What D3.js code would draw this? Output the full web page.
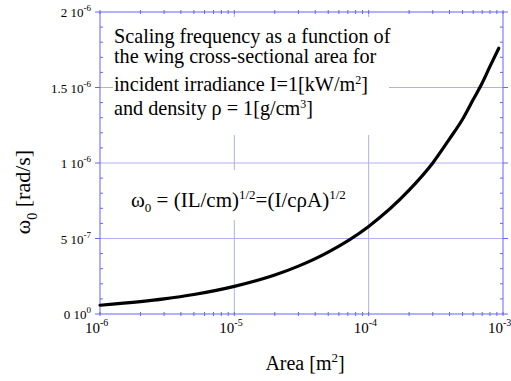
<!DOCTYPE html>
<html>
<head>
<meta charset="utf-8">
<script src="https://cdn.jsdelivr.net/npm/d3@7"></script>
<style>
  html, body { margin: 0; padding: 0; background: #fff; }
  svg { display: block; }
</style>
</head>
<body>
<div id="chart"></div>
<script>
// Valeurs
const areaValues  = [1e-6, 2e-6, 3e-6, 5e-6, 1e-5, 2e-5, 3e-5, 5e-5, 1e-4, 2e-4, 3e-4, 4e-4, 5e-4, 6e-4, 7e-4, 8e-4, 9.3e-4];
const omegaValues = [5.8e-8, 8.2e-8, 1.0e-7, 1.29e-7, 1.83e-7, 2.58e-7, 3.17e-7, 4.1e-7, 5.8e-7, 8.2e-7, 1.0e-6, 1.16e-6, 1.29e-6, 1.42e-6, 1.53e-6, 1.64e-6, 1.76e-6];

const xDecades = [1e-6, 1e-5, 1e-4, 1e-3];
const xTickExp = ["-6", "-5", "-4", "-3"];
const yMajor = [0, 5e-7, 1e-6, 1.5e-6, 2e-6];
const yTickMain = ["0 10", "5 10", "1 10", "1.5 10", "2 10"];
const yTickExp = ["0", "-7", "-6", "-6", "-6"];
const yGrid = [5e-7, 1e-6, 1.5e-6];
const xGrid = [1e-5, 1e-4];

const titleLines = [
  ["Scaling frequency as a function of"],
  ["the wing cross-sectional area for"],
  ["incident irradiance I=1[kW/m", "2", "]"],
  ["and density \u03c1 = 1[g/cm", "3", "]"]
];

const width = 511, height = 381;
const margin = { left: 100, right: 8, top: 12, bottom: 67 };
const axisColor = "#6464ff";
const gridColor = "#b0b0f0";
const serif = "'Liberation Serif', 'Times New Roman', serif";

const svg = d3.select("#chart").append("svg")
  .attr("width", width).attr("height", height)
  .attr("font-family", serif);

const x = d3.scaleLog().domain([1e-6, 1e-3]).range([margin.left, width - margin.right]);
const y = d3.scaleLinear().domain([0, 2e-6]).range([height - margin.bottom, margin.top]);
const x0 = x.range()[0], x1 = x.range()[1], y0 = y.range()[0], y1 = y.range()[1];

// Grille
const grid = svg.append("g").attr("stroke", gridColor).attr("stroke-width", 1);
yGrid.forEach(v => grid.append("line").attr("x1", x0).attr("x2", x1).attr("y1", y(v)).attr("y2", y(v)));
xGrid.forEach(v => grid.append("line").attr("x1", x(v)).attr("x2", x(v)).attr("y1", y1).attr("y2", y0));

// Cadres blancs derrière les textes
svg.append("rect").attr("x", 113).attr("y", 17).attr("width", 276).attr("height", 118).attr("fill", "#fff");
svg.append("rect").attr("x", 127).attr("y", 170).attr("width", 230).attr("height", 50).attr("fill", "#fff");

// Axes et graduations
const ax = svg.append("g").attr("stroke", axisColor).attr("stroke-width", 1).attr("fill", "none");
ax.append("rect").attr("x", x0).attr("y", y1).attr("width", x1 - x0).attr("height", y0 - y1);

const xMinor = [];
xDecades.slice(0, 3).forEach(d => { for (let k = 1; k <= 9; k++) xMinor.push(d * k); });
xMinor.push(1e-3);
xMinor.forEach(v => {
  ax.append("line").attr("x1", x(v)).attr("x2", x(v)).attr("y1", y0 - 2).attr("y2", y0 + 2);
  ax.append("line").attr("x1", x(v)).attr("x2", x(v)).attr("y1", y1 - 2).attr("y2", y1 + 2);
});

d3.range(0, 21).forEach(i => {
  const v = i * 1e-7;
  if (i % 5 === 0) {
    ax.append("line").attr("x1", x0 - 5).attr("x2", x0).attr("y1", y(v)).attr("y2", y(v));
    ax.append("line").attr("x1", x1).attr("x2", x1 + 5).attr("y1", y(v)).attr("y2", y(v));
  } else {
    ax.append("line").attr("x1", x0).attr("x2", x0 + 3).attr("y1", y(v)).attr("y2", y(v));
    ax.append("line").attr("x1", x1 - 3).attr("x2", x1).attr("y1", y(v)).attr("y2", y(v));
  }
});

// Etiquettes de l'axe x
xDecades.forEach((d, i) => {
  svg.append("text").attr("x", x(d)).attr("y", y0 + 19)
    .attr("text-anchor", "end").attr("font-size", 15).text("10");
  svg.append("text").attr("x", x(d)).attr("y", y0 + 12)
    .attr("font-size", 10).text(xTickExp[i]);
});

// Etiquettes de l'axe y
yMajor.forEach((v, i) => {
  const t = svg.append("text").attr("x", 91).attr("y", y(v) + 5)
    .attr("text-anchor", "end").attr("font-size", 13);
  t.append("tspan").text(yTickMain[i]);
  t.append("tspan").attr("font-size", 9).attr("dy", -6).text(yTickExp[i]);
});

// Courbe
const line = d3.line().x((d, i) => x(areaValues[i])).y(d => y(d)).curve(d3.curveMonotoneX);
svg.append("path").attr("d", line(omegaValues))
  .attr("fill", "none").attr("stroke", "#000").attr("stroke-width", 3.2)
  .attr("stroke-linecap", "round");

// Titre
const titleY = [43, 63, 91, 115];
titleLines.forEach((parts, i) => {
  const t = svg.append("text").attr("x", 114).attr("y", titleY[i]).attr("font-size", 20.2);
  t.append("tspan").text(parts[0]);
  if (parts.length > 1) {
    t.append("tspan").attr("font-size", 12).attr("dy", -7).text(parts[1]);
    t.append("tspan").attr("dy", 7).text(parts[2]);
  }
});

// Formule
const f = svg.append("text").attr("x", 131).attr("y", 207).attr("font-size", 21);
f.append("tspan").text("\u03c9");
f.append("tspan").attr("font-size", 13).attr("dy", 5).text("0");
f.append("tspan").attr("dy", -5).text(" = (IL/cm)");
f.append("tspan").attr("font-size", 13).attr("dy", -8).text("1/2");
f.append("tspan").attr("dy", 8).text("=(I/c\u03c1A)");
f.append("tspan").attr("font-size", 13).attr("dy", -8).text("1/2");

// Titres des axes
const xt = svg.append("text").attr("x", 305).attr("y", 370)
  .attr("text-anchor", "middle").attr("font-size", 20);
xt.append("tspan").text("Area [m");
xt.append("tspan").attr("font-size", 13).attr("dy", -8).text("2");
xt.append("tspan").attr("dy", 8).text("]");

const yt = svg.append("text").attr("transform", "translate(30,192) rotate(-90)")
  .attr("text-anchor", "middle").attr("font-size", 22);
yt.append("tspan").text("\u03c9");
yt.append("tspan").attr("font-size", 14).attr("dy", 7).text("0");
yt.append("tspan").attr("dy", -7).text("  [rad/s]");
</script>
</body>
</html>
